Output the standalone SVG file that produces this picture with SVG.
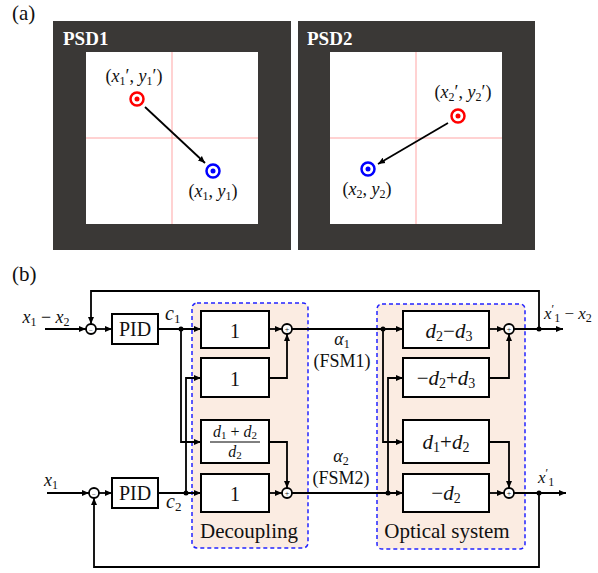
<svg xmlns="http://www.w3.org/2000/svg" width="598" height="573" viewBox="0 0 598 573">
<style>
.t{font-family:"Liberation Serif","DejaVu Serif",serif;fill:#111}
.i{font-style:italic}
.w{stroke:#000;stroke-width:1.8;fill:none}
.blk{fill:#fff;stroke:#000;stroke-width:2}
.sum{fill:#fff;stroke:#000;stroke-width:1.8}
.grp{fill:#fbece2;stroke:#2323ff;stroke-width:1.5;stroke-dasharray:4 3}
.dot{fill:#000}
.panel{fill:#3a3836}
.hair{stroke:#ff8080;stroke-width:0.7}
</style>
<defs>
<marker id="ah" markerUnits="userSpaceOnUse" markerWidth="8" markerHeight="8" refX="7" refY="4" orient="auto">
<path d="M0,1 L7,4 L0,7 Z" fill="#000"/>
</marker>
</defs>

<!-- (a) -->
<text class="t" x="12" y="20" font-size="21">(a)</text>

<g id="psd1">
<rect class="panel" x="53" y="21" width="238" height="229"/>
<text class="t" x="63" y="45" font-size="19" font-weight="bold" style="fill:#fff">PSD1</text>
<rect x="86" y="52" width="172" height="172" fill="#fff"/>
<line class="hair" x1="172" y1="52" x2="172" y2="224"/>
<line class="hair" x1="86" y1="138" x2="258" y2="138"/>
<circle cx="137" cy="99" r="6.5" fill="#fff" stroke="#ff0000" stroke-width="2.5"/>
<circle cx="137" cy="99" r="2.5" fill="#ff0000"/>
<circle cx="213" cy="171" r="6.5" fill="#fff" stroke="#0000ff" stroke-width="2.5"/>
<circle cx="213" cy="171" r="2.5" fill="#0000ff"/>
<line x1="145" y1="107" x2="205" y2="163" stroke="#000" stroke-width="1.8" marker-end="url(#ah)"/>
<text class="t" x="134" y="82" font-size="18" text-anchor="middle">(<tspan class="i">x</tspan><tspan font-size="12" dy="3">1</tspan><tspan dy="-3">′, </tspan><tspan class="i">y</tspan><tspan font-size="12" dy="3">1</tspan><tspan dy="-3">′)</tspan></text>
<text class="t" x="213" y="197" font-size="18" text-anchor="middle">(<tspan class="i">x</tspan><tspan font-size="12" dy="3">1</tspan><tspan dy="-3">, </tspan><tspan class="i">y</tspan><tspan font-size="12" dy="3">1</tspan><tspan dy="-3">)</tspan></text>
</g>

<g id="psd2">
<rect class="panel" x="298" y="21" width="237" height="229"/>
<text class="t" x="307" y="45" font-size="19" font-weight="bold" style="fill:#fff">PSD2</text>
<rect x="330" y="52" width="172" height="172" fill="#fff"/>
<line class="hair" x1="416" y1="52" x2="416" y2="224"/>
<line class="hair" x1="330" y1="138" x2="502" y2="138"/>
<circle cx="458" cy="116" r="6.5" fill="#fff" stroke="#ff0000" stroke-width="2.5"/>
<circle cx="458" cy="116" r="2.5" fill="#ff0000"/>
<circle cx="368" cy="169" r="6.5" fill="#fff" stroke="#0000ff" stroke-width="2.5"/>
<circle cx="368" cy="169" r="2.5" fill="#0000ff"/>
<line x1="448" y1="123" x2="378" y2="164" stroke="#000" stroke-width="1.8" marker-end="url(#ah)"/>
<text class="t" x="463" y="98" font-size="18" text-anchor="middle">(<tspan class="i">x</tspan><tspan font-size="12" dy="3">2</tspan><tspan dy="-3">′, </tspan><tspan class="i">y</tspan><tspan font-size="12" dy="3">2</tspan><tspan dy="-3">′)</tspan></text>
<text class="t" x="367" y="195" font-size="18" text-anchor="middle">(<tspan class="i">x</tspan><tspan font-size="12" dy="3">2</tspan><tspan dy="-3">, </tspan><tspan class="i">y</tspan><tspan font-size="12" dy="3">2</tspan><tspan dy="-3">)</tspan></text>
</g>

<!-- (b) -->
<text class="t" x="12" y="281" font-size="21">(b)</text>

<g id="decoupling">
<rect class="grp" x="192" y="303" width="116" height="245" rx="5"/>
<text class="t" x="249" y="538" font-size="21" text-anchor="middle">Decoupling</text>
</g>
<g id="optical">
<rect class="grp" x="377" y="304" width="148" height="245" rx="5"/>
<text class="t" x="447" y="538" font-size="21" text-anchor="middle">Optical system</text>
</g>

<g id="connectors">
<path class="w" d="M45,329 H86" marker-end="url(#ah)"/>
<path class="w" d="M96,329 H112" marker-end="url(#ah)"/>
<path class="w" d="M158,329 H201" marker-end="url(#ah)"/>
<path class="w" d="M269,329 H282" marker-end="url(#ah)"/>
<path class="w" d="M292,329 H403" marker-end="url(#ah)"/>
<path class="w" d="M489,329 H504" marker-end="url(#ah)"/>
<path class="w" d="M514,329 H563" marker-end="url(#ah)"/>
<path class="w" d="M539,329 V291 H91 V324" marker-end="url(#ah)"/>
<path class="w" d="M47,493 H89" marker-end="url(#ah)"/>
<path class="w" d="M99,493 H112" marker-end="url(#ah)"/>
<path class="w" d="M158,493 H201" marker-end="url(#ah)"/>
<path class="w" d="M269,493 H282" marker-end="url(#ah)"/>
<path class="w" d="M292,493 H403" marker-end="url(#ah)"/>
<path class="w" d="M489,493 H504" marker-end="url(#ah)"/>
<path class="w" d="M514,493 H566" marker-end="url(#ah)"/>
<path class="w" d="M539,493 V567 H94 V498" marker-end="url(#ah)"/>
<path class="w" d="M181,329 V442 H201" marker-end="url(#ah)"/>
<path class="w" d="M186,493 V378 H201" marker-end="url(#ah)"/>
<path class="w" d="M269,378 H287 V334" marker-end="url(#ah)"/>
<path class="w" d="M269,442 H287 V488" marker-end="url(#ah)"/>
<path class="w" d="M383,329 V442 H403" marker-end="url(#ah)"/>
<path class="w" d="M388,493 V378 H403" marker-end="url(#ah)"/>
<path class="w" d="M489,378 H509 V334" marker-end="url(#ah)"/>
<path class="w" d="M489,442 H509 V488" marker-end="url(#ah)"/>
<circle class="dot" cx="181" cy="329" r="2.5"/>
<circle class="dot" cx="186" cy="493" r="2.5"/>
<circle class="dot" cx="383" cy="329" r="2.5"/>
<circle class="dot" cx="388" cy="493" r="2.5"/>
<circle class="dot" cx="539" cy="329" r="2.5"/>
<circle class="dot" cx="539" cy="493" r="2.5"/>
</g>

<g id="labels">
<text class="t" x="46" y="323" font-size="18" text-anchor="middle"><tspan class="i">x</tspan><tspan font-size="12" dy="3">1</tspan><tspan dy="-3"> − </tspan><tspan class="i">x</tspan><tspan font-size="12" dy="3">2</tspan></text>
<text class="t" x="44" y="486" font-size="18"><tspan class="i">x</tspan><tspan font-size="12" dy="3">1</tspan></text>
<text class="t" x="165" y="320" font-size="20"><tspan class="i">c</tspan><tspan font-size="13" dy="3">1</tspan></text>
<text class="t" x="166" y="508" font-size="20"><tspan class="i">c</tspan><tspan font-size="13" dy="3">2</tspan></text>
<text class="t" x="342" y="345" font-size="18" text-anchor="middle"><tspan class="i">α</tspan><tspan font-size="12" dy="3">1</tspan></text>
<text class="t" x="342" y="367" font-size="18" text-anchor="middle">(FSM1)</text>
<text class="t" x="341" y="462" font-size="18" text-anchor="middle"><tspan class="i">α</tspan><tspan font-size="12" dy="3">2</tspan></text>
<text class="t" x="341" y="484" font-size="18" text-anchor="middle">(FSM2)</text>
<text class="t" x="544" y="319" font-size="17"><tspan class="i">x</tspan><tspan font-size="12" dy="-6">′</tspan><tspan font-size="12" dy="9">1</tspan><tspan dy="-3"> − </tspan><tspan class="i">x</tspan><tspan font-size="12" dy="3">2</tspan></text>
<text class="t" x="538" y="483" font-size="17"><tspan class="i">x</tspan><tspan font-size="12" dy="-6">′</tspan><tspan font-size="12" dy="9">1</tspan></text>
</g>

<g id="sum-in1"><circle class="sum" cx="91" cy="329" r="5"/><text class="t" x="91" y="333" font-size="7" text-anchor="middle">−</text></g>
<g id="sum-in2"><circle class="sum" cx="94" cy="493" r="5"/><text class="t" x="94" y="497" font-size="7" text-anchor="middle">−</text></g>
<g id="pid1"><rect class="blk" x="112" y="314" width="46" height="30"/><text class="t" x="135" y="336" font-size="20" text-anchor="middle">PID</text></g>
<g id="pid2"><rect class="blk" x="112" y="478" width="46" height="30"/><text class="t" x="135" y="500" font-size="20" text-anchor="middle">PID</text></g>

<g id="dec-b1"><rect class="blk" x="201" y="311" width="68" height="37"/><text class="t" x="235" y="338" font-size="20" text-anchor="middle">1</text></g>
<g id="dec-b2"><rect class="blk" x="201" y="358" width="68" height="39"/><text class="t" x="235" y="386" font-size="20" text-anchor="middle">1</text></g>
<g id="dec-b3"><rect class="blk" x="201" y="420" width="68" height="43"/>
<text class="t" x="235" y="437" font-size="16" text-anchor="middle"><tspan class="i">d</tspan><tspan font-size="11" dy="2">1</tspan><tspan dy="-2"> + </tspan><tspan class="i">d</tspan><tspan font-size="11" dy="2">2</tspan></text>
<line x1="210" y1="442" x2="260" y2="442" stroke="#000" stroke-width="1"/>
<text class="t" x="235" y="457" font-size="16" text-anchor="middle"><tspan class="i">d</tspan><tspan font-size="11" dy="2">2</tspan></text></g>
<g id="dec-b4"><rect class="blk" x="201" y="474" width="68" height="38"/><text class="t" x="235" y="501" font-size="20" text-anchor="middle">1</text></g>
<g id="dec-s1"><circle class="sum" cx="287" cy="329" r="5"/><text class="t" x="287" y="332" font-size="8" text-anchor="middle">+</text></g>
<g id="dec-s2"><circle class="sum" cx="287" cy="493" r="5"/><text class="t" x="287" y="496" font-size="8" text-anchor="middle">+</text></g>

<g id="opt-b1"><rect class="blk" x="403" y="311" width="86" height="37"/><text class="t" x="449" y="338" font-size="21" text-anchor="middle"><tspan class="i">d</tspan><tspan font-size="14" dy="3">2</tspan><tspan dy="-3">−</tspan><tspan class="i">d</tspan><tspan font-size="14" dy="3">3</tspan></text></g>
<g id="opt-b2"><rect class="blk" x="403" y="358" width="86" height="39"/><text class="t" x="446" y="385" font-size="21" text-anchor="middle">−<tspan class="i">d</tspan><tspan font-size="14" dy="3">2</tspan><tspan dy="-3">+</tspan><tspan class="i">d</tspan><tspan font-size="14" dy="3">3</tspan></text></g>
<g id="opt-b3"><rect class="blk" x="403" y="420" width="86" height="43"/><text class="t" x="446" y="449" font-size="21" text-anchor="middle"><tspan class="i">d</tspan><tspan font-size="14" dy="3">1</tspan><tspan dy="-3">+</tspan><tspan class="i">d</tspan><tspan font-size="14" dy="3">2</tspan></text></g>
<g id="opt-b4"><rect class="blk" x="403" y="474" width="86" height="38"/><text class="t" x="446" y="500" font-size="21" text-anchor="middle">−<tspan class="i">d</tspan><tspan font-size="14" dy="3">2</tspan></text></g>
<g id="opt-s1"><circle class="sum" cx="509" cy="329" r="5"/><text class="t" x="509" y="332" font-size="8" text-anchor="middle">+</text></g>
<g id="opt-s2"><circle class="sum" cx="509" cy="493" r="5"/><text class="t" x="509" y="496" font-size="8" text-anchor="middle">+</text></g>
</svg>
